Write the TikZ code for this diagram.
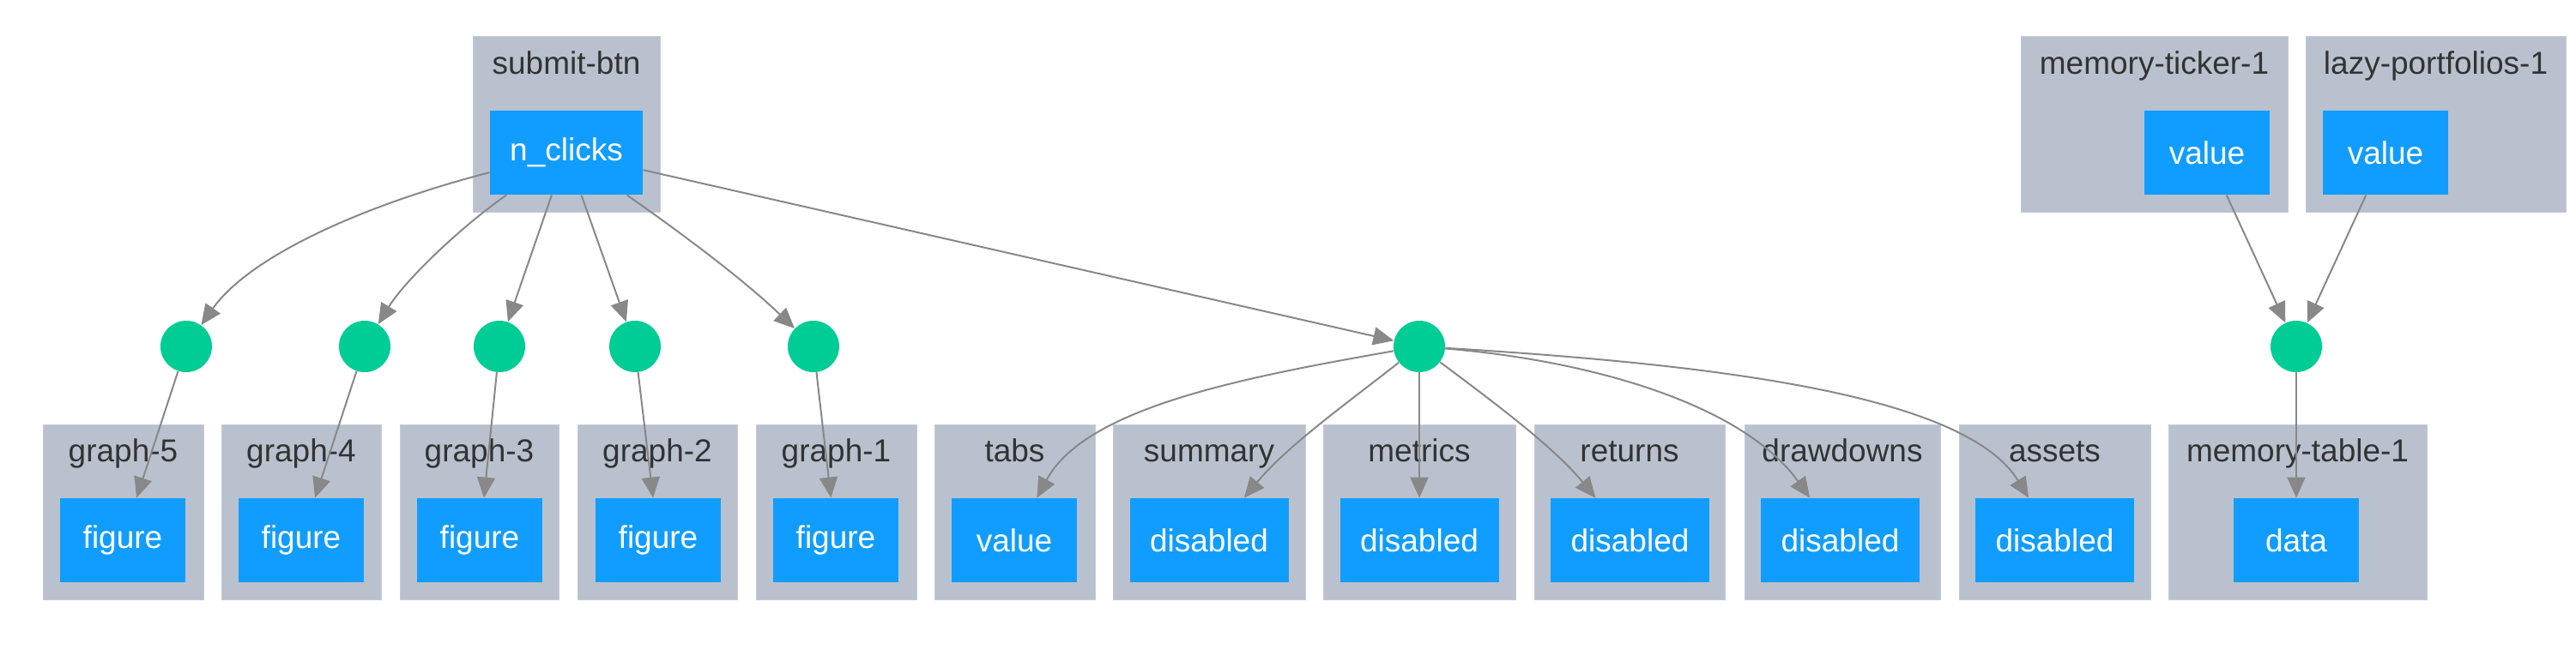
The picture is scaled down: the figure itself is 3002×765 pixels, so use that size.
\documentclass[tikz,border=0pt]{standalone}
\usepackage{fontspec}
\setmainfont{Liberation Sans}
\usetikzlibrary{arrows.meta}
\definecolor{clusterfill}{HTML}{B9C1CE}
\definecolor{portblue}{HTML}{119DFF}
\definecolor{cbgreen}{HTML}{00CC96}
\definecolor{linkgray}{HTML}{888888}
\definecolor{titlegray}{HTML}{333333}
\tikzset{
	cluster/.style={fill=clusterfill, draw=clusterfill!85!white, line width=0.5pt},
	cltitle/.style={text=titlegray, font=\fontsize{18.5}{22}\selectfont, inner sep=0pt, anchor=base},
	port/.style={fill=portblue, text=white, font=\fontsize{18.5}{22}\selectfont, inner sep=0pt, minimum height=49pt, minimum width=73pt},
	dport/.style={port, minimum width=92.5pt},
	cb/.style={circle, fill=cbgreen, inner sep=0pt, minimum size=30pt},
	link/.style={draw=linkgray, line width=1pt, -{Triangle[length=12pt,width=10.5pt]}}
}

\begin{document}
\begin{tikzpicture}[x=0.5pt, y=-0.5pt]
			%%%%% START %%%%%
			\useasboundingbox (0, 0) rectangle (3002, 765);
			
			% top row
			\draw[cluster] (551, 43) rectangle (769, 247);
			\node[cltitle] (tsubmit) at (660, 87) {submit-btn};
			\node[port, minimum width=89pt] (nclk) at (660, 178) {n\_clicks};
			
			\draw[cluster] (2355, 43) rectangle (2666, 247);
			\node[cltitle] (tticker) at (2510.5, 87) {memory-ticker-1};
			\node[port] (mtv) at (2572, 178) {value};
			
			\draw[cluster] (2687, 43) rectangle (2990, 247);
			\node[cltitle] (tlazy) at (2838.5, 87) {lazy-portfolios-1};
			\node[port] (lpv) at (2780, 178) {value};
			
			% callbacks
			\node[cb] (c1) at (217, 404) {};
			\node[cb] (c2) at (425, 404) {};
			\node[cb] (c3) at (582, 404) {};
			\node[cb] (c4) at (740, 404) {};
			\node[cb] (c5) at (948, 404) {};
			\node[cb] (c6) at (1654, 404) {};
			\node[cb] (c7) at (2676, 404) {};
			
			% bottom row
			\draw[cluster] (50, 495) rectangle (237, 699);
			\node[cltitle] (tg5) at (143.5, 538) {graph-5};
			\node[port] (fig5) at (143, 630) {figure};
			
			\draw[cluster] (258, 495) rectangle (444, 699);
			\node[cltitle] (tg4) at (351, 538) {graph-4};
			\node[port] (fig4) at (351, 630) {figure};
			
			\draw[cluster] (466, 495) rectangle (651, 699);
			\node[cltitle] (tg3) at (558.5, 538) {graph-3};
			\node[port] (fig3) at (559, 630) {figure};
			
			\draw[cluster] (673, 495) rectangle (859, 699);
			\node[cltitle] (tg2) at (766, 538) {graph-2};
			\node[port] (fig2) at (767, 630) {figure};
			
			\draw[cluster] (881, 495) rectangle (1068, 699);
			\node[cltitle] (tg1) at (974.5, 538) {graph-1};
			\node[port] (fig1) at (974, 630) {figure};
			
			\draw[cluster] (1089, 495) rectangle (1276, 699);
			\node[cltitle] (ttabs) at (1182.5, 538) {tabs};
			\node[port] (tabv) at (1182, 630) {value};
			
			\draw[cluster] (1297, 495) rectangle (1521, 699);
			\node[cltitle] (tsum) at (1409, 538) {summary};
			\node[dport] (sumd) at (1409, 630) {disabled};
			
			\draw[cluster] (1542, 495) rectangle (1766, 699);
			\node[cltitle] (tmet) at (1654, 538) {metrics};
			\node[dport] (metd) at (1654, 630) {disabled};
			
			\draw[cluster] (1788, 495) rectangle (2010, 699);
			\node[cltitle] (tret) at (1899, 538) {returns};
			\node[dport] (retd) at (1899.5, 630) {disabled};
			
			\draw[cluster] (2033, 495) rectangle (2261, 699);
			\node[cltitle] (tdrw) at (2147, 538) {drawdowns};
			\node[dport] (drwd) at (2144.5, 630) {disabled};
			
			\draw[cluster] (2283, 495) rectangle (2506, 699);
			\node[cltitle] (tass) at (2394.5, 538) {assets};
			\node[dport] (assd) at (2394.5, 630) {disabled};
			
			\draw[cluster] (2527, 495) rectangle (2828, 699);
			\node[cltitle] (ttable) at (2677.5, 538) {memory-table-1};
			\node[port] (mtd) at (2676, 630) {data};
			
			% links
			\draw[link] (nclk) .. controls (420, 240) and (290, 300) .. (c1);
			\draw[link] (nclk) .. controls (530, 270) and (470, 330) .. (c2);
			\draw[link] (nclk) -- (c3);
			\draw[link] (nclk) -- (c4);
			\draw[link] (nclk) .. controls (780, 262) and (860, 320) .. (c5);
			\draw[link] (nclk) -- (c6);
			
			\draw[link] (c1) -- (fig5);
			\draw[link] (c2) -- (fig4);
			\draw[link] (c3) -- (fig3);
			\draw[link] (c4) -- (fig2);
			\draw[link] (c5) -- (fig1);
			
			\draw[link] (c6) .. controls (1450, 440) and (1265, 475) .. (tabv);
			\draw[link] (c6) .. controls (1570, 470) and (1500, 520) .. (sumd);
			\draw[link] (c6) -- (metd);
			\draw[link] (c6) .. controls (1735, 465) and (1810, 520) .. (retd);
			\draw[link] (c6) .. controls (1850, 420) and (2030, 470) .. (drwd);
			\draw[link] (c6) .. controls (2000, 425) and (2290, 460) .. (assd);
			
			\draw[link] (mtv) -- (c7);
			\draw[link] (lpv) -- (c7);
			\draw[link] (c7) -- (mtd);
			
			%%%%% END %%%%%
\end{tikzpicture}
\end{document}
